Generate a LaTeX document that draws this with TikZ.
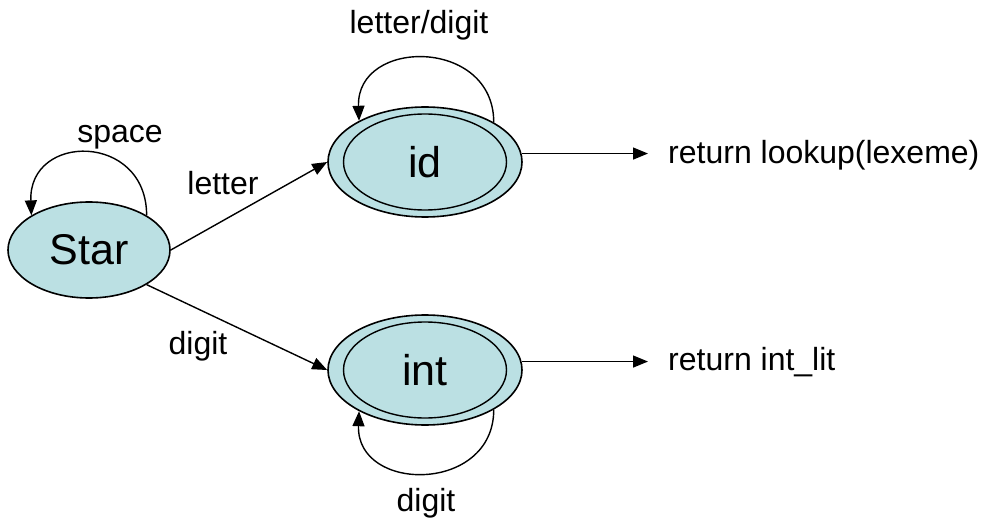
\documentclass[tikz,border=0pt]{standalone}
\usepackage{fontspec}
\setmainfont{Liberation Sans}
\usetikzlibrary{shapes.geometric,arrows.meta}
\definecolor{stfill}{RGB}{187,224,227}
\begin{document}
\begin{tikzpicture}[x=1pt,y=-1pt,
  state/.style={ellipse,draw,line width=1.6pt,fill=stfill,inner sep=0pt},
  innerring/.style={ellipse,draw,line width=1.4pt,inner sep=0pt},
  edge/.style={line width=1.4pt,-{Triangle[length=15pt,width=12pt]}},
  lbl/.style={font=\fontsize{32}{36}\selectfont,inner sep=0pt},
  big/.style={font=\fontsize{43}{48}\selectfont}]
\useasboundingbox (0,0) rectangle (984,521);
% states
\node[state,minimum width=162pt,minimum height=96pt,big] (star) at (89,250) {Star};
\node[state,minimum width=194pt,minimum height=110pt] (id) at (425,162) {};
\node[innerring,minimum width=163pt,minimum height=96pt,big] (idin) at (425,162) {id};
\node[state,minimum width=194pt,minimum height=110pt] (int) at (425,370) {};
\node[innerring,minimum width=163pt,minimum height=96pt,big] (intin) at (425,370) {int};
% labels
\node[lbl] (lspace) at (120,137) {space};
\node[lbl] (lletter) at (223,183) {letter};
\node[lbl] (ldigit) at (198,346) {digit};
\node[lbl] (lld) at (419,25) {letter/digit};
\node[lbl] (ldig2) at (426,503) {digit};
\node[lbl,anchor=west] (ret1) at (668,155) {return lookup(lexeme)};
\node[lbl,anchor=west] (ret2) at (668,362) {return int\_lit};
\coordinate (r1) at (648,155);
\coordinate (r2) at (648,362);
% edges
\draw[edge] (star.east) -- (id.west);
\draw[edge] (star.-31) -- (int.west);
\draw[edge] (star.31) .. controls +(0,-83) and +(-3,-83) .. (star.149);
\draw[edge] (id.30) .. controls +(0,-85) and +(-3,-83) .. (id.148);
\draw[edge] (int.-30) .. controls +(0,84) and +(-3,82) .. (int.-148);
\draw[edge] (id.5) -- (id.5 -| r1);
\draw[edge] (int.5) -- (int.5 -| r2);
\end{tikzpicture}
\end{document}
